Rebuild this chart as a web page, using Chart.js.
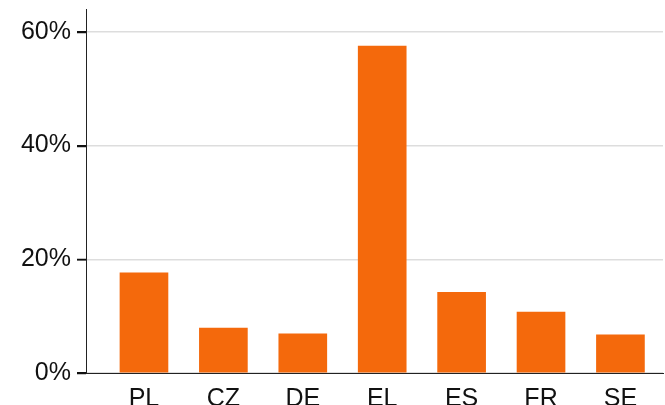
<!DOCTYPE html>
<html>
<head>
<meta charset="utf-8">
<script src="https://cdn.jsdelivr.net/npm/chart.js@4/dist/chart.umd.min.js"></script>
<style>
  html, body { margin: 0; padding: 0; background: #fff; }
  #wrap { width: 665px; height: 405px; }
</style>
</head>
<body>
<div id="wrap"><canvas id="chart"></canvas></div>
<script>
var categories = ['PL', 'CZ', 'DE', 'EL', 'ES', 'FR', 'SE'];
var values = [17.6, 7.9, 6.9, 57.5, 14.2, 10.7, 6.7];
var yTicks = [0, 20, 40, 60];

var points = values.map(function (v, i) { return { x: i, y: v }; });

// tick marks left of the y axis
var yTickMarks = {
  id: 'yTickMarks',
  afterDraw: function (chart) {
    var y = chart.scales.y;
    var c = chart.ctx;
    c.save();
    c.strokeStyle = '#111';
    c.lineWidth = 1.5;
    y.ticks.forEach(function (t) {
      var py = Math.round(y.getPixelForValue(t.value)) + 0.5;
      c.beginPath();
      c.moveTo(y.right - 9, py);
      c.lineTo(y.right, py);
      c.stroke();
    });
    c.restore();
  }
};

var ctx = document.getElementById('chart').getContext('2d');
var chart = new Chart(ctx, {
  type: 'bar',
  data: {
    datasets: [{
      data: points,
      backgroundColor: '#f4690c',
      borderWidth: 0,
      barThickness: 48
    }]
  },
  options: {
    responsive: true,
    maintainAspectRatio: false,
    animation: false,
    layout: { padding: { top: 9, right: 2, left: 0, bottom: 0 } },
    plugins: {
      legend: { display: false },
      tooltip: { enabled: false }
    },
    scales: {
      x: {
        type: 'linear',
        offset: false,
        min: -0.73,
        max: 6.536,
        afterBuildTicks: function (axis) {
          axis.ticks = categories.map(function (c, i) { return { value: i }; });
        },
        afterFit: function (axis) {
          axis.height = 32;
          axis.paddingLeft = 0;
          axis.paddingRight = 0;
        },
        grid: { display: false, drawTicks: false, offset: false },
        border: { color: '#222', width: 1 },
        ticks: {
          padding: 11,
          color: '#111',
          font: { family: 'Liberation Sans, Arial, sans-serif', size: 25 },
          callback: function (val) { return categories[val]; },
          maxRotation: 0
        }
      },
      y: {
        min: 0,
        max: 64,
        afterBuildTicks: function (axis) {
          axis.ticks = yTicks.map(function (t) { return { value: t }; });
        },
        afterFit: function (axis) {
          axis.width = 86;
          axis.paddingTop = 0;
          axis.paddingBottom = 0;
        },
        grid: {
          color: '#dddddd',
          lineWidth: 1.5,
          drawTicks: true,
          tickLength: 9,
          tickColor: '#111',
          tickWidth: 1.5
        },
        border: { color: '#222', width: 1 },
        ticks: {
          padding: 6,
          color: '#111',
          font: { family: 'Liberation Sans, Arial, sans-serif', size: 25 },
          callback: function (val) { return val + '%'; }
        }
      }
    }
  },
  plugins: [yTickMarks]
});
</script>
</body>
</html>
